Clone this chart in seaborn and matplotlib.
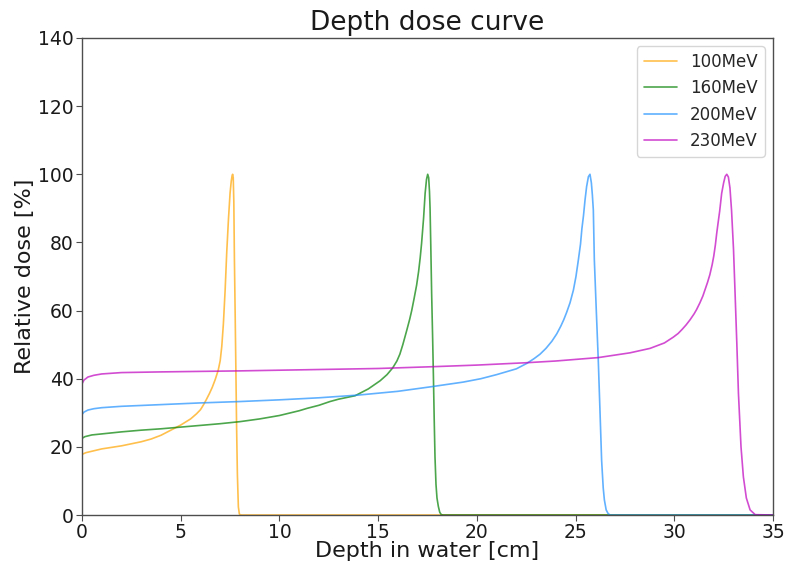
import numpy as np
import pandas as pd
import matplotlib
matplotlib.use("Agg")
import matplotlib.pyplot as plt
import seaborn as sns

# Depth (cm) and relative dose (%) for each proton beam energy
depth_100 = [0, 0.2, 1, 2, 3, 3.5, 4, 4.6, 5.0, 5.5, 5.8, 6.0, 6.15, 6.3, 6.45,
             6.6, 6.75, 6.9, 7.0, 7.08, 7.16, 7.25, 7.33, 7.42, 7.5, 7.56, 7.6,
             7.63, 7.66, 7.69, 7.72, 7.76, 7.8, 7.83, 7.87, 7.92, 7.97, 8.02,
             8.1, 35]
dose_100 = [17.8, 18.3, 19.4, 20.3, 21.5, 22.3, 23.4, 25.2, 26.4, 28.2, 29.7,
            30.9, 32.3, 33.9, 35.6, 37.5, 39.8, 42.5, 45.3, 49.5, 56, 66, 77,
            87, 94.5, 98, 99.5, 100, 99, 92, 75, 58, 40, 26, 12, 2.4, 0.3,
            0.05, 0, 0]

depth_160 = [0, 0.15, 0.5, 1, 2, 3, 4, 5, 6, 7, 8, 9, 10, 11, 11.4, 12, 12.56,
             13, 13.83, 14.5, 15.1, 15.45, 15.74, 15.95, 16.1, 16.25, 16.44,
             16.6, 16.7, 16.82, 16.95, 17.05, 17.13, 17.2, 17.3, 17.38, 17.45,
             17.51, 17.56, 17.6, 17.63, 17.67, 17.71, 17.76, 17.8, 17.84, 17.88,
             17.93, 17.98, 18.05, 18.12, 18.2, 18.3, 35]
dose_160 = [22.5, 23.0, 23.5, 23.8, 24.4, 24.9, 25.3, 25.8, 26.3, 26.8, 27.4,
            28.2, 29.2, 30.6, 31.3, 32.2, 33.3, 34.0, 35.0, 37.0, 39.4, 41.2,
            43.2, 45.2, 47.2, 50.0, 54.0, 57.5, 60, 63.5, 67.5, 71.5, 75.5,
            79.7, 87, 94.4, 98.5, 100, 99, 95, 90, 78, 65, 52, 40.6, 28, 17, 9,
            5, 2.5, 0.8, 0.1, 0, 0]

depth_200 = [0, 0.1, 0.3, 0.6, 1, 2, 4, 6, 8, 10, 12, 14, 16, 17.63, 19.3, 20.2,
             21.0, 22.0, 22.53, 22.9, 23.2, 23.5, 23.8, 24.05, 24.25, 24.4,
             24.55, 24.72, 24.89, 25.02, 25.14, 25.25, 25.32, 25.4, 25.48,
             25.56, 25.65, 25.73, 25.8, 25.85, 25.9, 25.95, 26.05, 26.15, 26.24,
             26.32, 26.4, 26.46, 26.55, 26.65, 26.75, 35]
dose_200 = [29.5, 30.2, 30.8, 31.2, 31.5, 31.9, 32.4, 32.9, 33.3, 33.8, 34.4,
            35.2, 36.3, 37.6, 39.0, 40.0, 41.2, 42.9, 44.5, 45.9, 47.2, 48.9,
            51.0, 53.2, 55.4, 57.3, 59.5, 62.3, 66, 70, 74.8, 79.5, 84, 87.8,
            92.5, 96.4, 99.3, 100, 97.5, 94, 89.5, 75, 60, 45.5, 30, 16, 8,
            4.4, 1.5, 0.4, 0, 0]

depth_230 = [0, 0.1, 0.3, 0.6, 1, 2, 4, 8, 12, 15, 17.63, 20, 22.53, 24, 26.15,
             27.76, 28.77, 29.5, 29.95, 30.2, 30.4, 30.6, 30.8, 31.0, 31.13,
             31.3, 31.45, 31.55, 31.68, 31.8, 31.92, 32.0, 32.08, 32.15, 32.23,
             32.3, 32.4, 32.5, 32.58, 32.66, 32.74, 32.82, 32.9, 33.0, 33.08,
             33.17, 33.25, 33.38, 33.5, 33.65, 33.84, 34.1, 35]
dose_230 = [38.5, 39.6, 40.5, 41.0, 41.4, 41.8, 42.0, 42.3, 42.7, 43.0, 43.5,
            44.0, 44.7, 45.2, 46.2, 47.6, 48.9, 50.5, 52.2, 53.3, 54.5, 55.8,
            57.3, 59.0, 60.3, 62.3, 64.3, 66, 68.2, 70.5, 73.5, 76, 79.2, 82.7,
            86.2, 89.2, 94.4, 97.5, 99.4, 100, 99.2, 96, 89.5, 78, 65, 50,
            35.7, 20, 11.2, 5, 1.5, 0.1, 0]

energies = ["100MeV", "160MeV", "200MeV", "230MeV"]
depths = [depth_100, depth_160, depth_200, depth_230]
doses = [dose_100, dose_160, dose_200, dose_230]
colors = ["orange", "green", "dodgerblue", "m"]

sns.set_style("ticks")
plt.rcParams["font.family"] = ["DejaVu Sans"]

fig, ax = plt.subplots(figsize=(7.87, 5.67), dpi=100)
fig.subplots_adjust(left=0.1042, right=0.9822, top=0.933, bottom=0.0917)

for label, d, v, c in zip(energies, depths, doses, colors):
    df = pd.DataFrame({"depth": d, "dose": v})
    sns.lineplot(data=df, x="depth", y="dose", color=c, alpha=0.7,
                 linewidth=1.2, label=label, ax=ax)

ax.set_xlim(0, 35)
ax.set_ylim(0, 140)
ax.set_xticks(np.arange(0, 36, 5))
ax.set_yticks(np.arange(0, 141, 20))
ax.tick_params(labelsize=13.5, length=4, pad=2, color="0.3", labelcolor="0.1")
ax.set_xlabel("Depth in water [cm]", fontsize=16, labelpad=-1, color="0.1")
ax.set_ylabel("Relative dose [%]", fontsize=16, labelpad=2, color="0.1")
ax.set_title("Depth dose curve", fontsize=19, color="0.1")
for s in ax.spines.values():
    s.set_color("0.3")
    s.set_linewidth(1.0)

ax.legend(loc="upper right", fontsize=12, frameon=True)

fig.savefig("out.png", dpi=100)
